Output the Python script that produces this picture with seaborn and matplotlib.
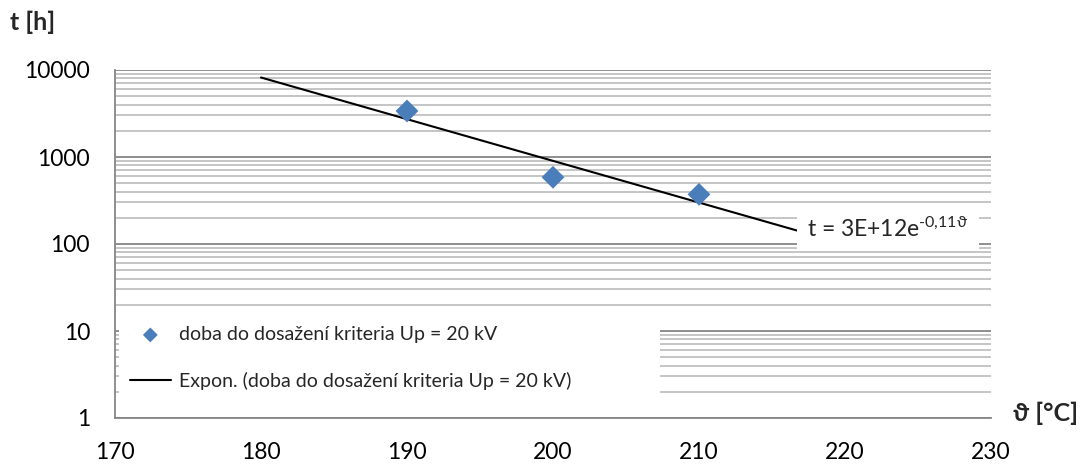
import numpy as np
import pandas as pd
import seaborn as sns
import matplotlib
matplotlib.use("Agg")
import matplotlib.pyplot as plt
from matplotlib.ticker import FixedLocator, LogLocator, NullFormatter
from matplotlib.patches import Rectangle

# Measured time to reach the criterion Up = 20 kV at each ageing temperature
theta = [190, 200, 210]          # temperature [°C]
hours = [3380, 585, 372]         # time [h]
series_label = "doba do dosažení kriteria Up = 20 kV"
trend_label = "Expon. (doba do dosažení kriteria Up = 20 kV)"
x_ticks = [170, 180, 190, 200, 210, 220, 230]
y_ticks = [1, 10, 100, 1000, 10000]

sns.set_theme(style="white")
FONT = ["Lato", "DejaVu Sans"]
plt.rcParams["font.family"] = FONT
plt.rcParams["mathtext.fontset"] = "custom"
plt.rcParams["mathtext.rm"] = "Lato"
plt.rcParams["mathtext.it"] = "Lato:italic"
plt.rcParams["mathtext.fallback"] = "stixsans"

df = pd.DataFrame({"theta": theta, "hours": hours})

# Exponential trend t = a * exp(b * theta), fitted on log scale
b, ln_a = np.polyfit(df["theta"], np.log(df["hours"]), 1)
a = np.exp(ln_a)
trend_x = np.linspace(min(theta) - 10, max(theta) + 10, 100)
trend = pd.DataFrame({"theta": trend_x, "hours": a * np.exp(b * trend_x)})

fig = plt.figure(figsize=(10.81, 4.66), dpi=100)
ax = fig.add_axes([115 / 1081, 1 - 418 / 466, 876 / 1081, 348 / 466])

MAJOR = "#868686"
MINOR = "#c0c0c0"
BLUE = "#4a7ebb"

ax.set_yscale("log")
ax.set_xlim(170, 230)
ax.set_ylim(1, 10000)
ax.set_axisbelow(True)

ax.yaxis.set_major_locator(FixedLocator(y_ticks))
ax.set_yticklabels([str(v) for v in y_ticks])
ax.yaxis.set_minor_locator(LogLocator(base=10, subs=np.arange(2, 10)))
ax.yaxis.set_minor_formatter(NullFormatter())
ax.xaxis.set_major_locator(FixedLocator(x_ticks))
ax.set_xticklabels([str(v) for v in x_ticks])

ax.grid(False)
ax.grid(True, which="major", axis="y", color=MAJOR, linewidth=1.3)
ax.grid(True, which="minor", axis="y", color=MINOR, linewidth=1.3)

ax.tick_params(axis="both", which="major", direction="out", length=6,
               width=1.3, color=MAJOR, labelsize=16.5, labelcolor="black")
ax.tick_params(axis="y", which="major", pad=12)
ax.tick_params(axis="x", which="major", pad=11)
ax.tick_params(axis="y", which="minor", length=0)
for side in ("top", "right"):
    ax.spines[side].set_visible(False)
for side in ("left", "bottom"):
    ax.spines[side].set_color(MAJOR)
    ax.spines[side].set_linewidth(1.3)

sns.lineplot(data=trend, x="theta", y="hours", color="black", linewidth=1.5,
             ax=ax, label=trend_label, zorder=3)
sns.scatterplot(data=df, x="theta", y="hours", marker="D", s=135, color=BLUE,
                edgecolor="none", ax=ax, label=series_label, zorder=4)
ax.set_xlabel("")
ax.set_ylabel("")

# White panel behind the legend
ax.add_patch(Rectangle((0.004, 0.003), 0.618, 0.285, transform=ax.transAxes,
                       facecolor="white", edgecolor="none", zorder=1.5))
handles, labels = ax.get_legend_handles_labels()
order = [labels.index(series_label), labels.index(trend_label)]
leg = ax.legend([handles[i] for i in order], [labels[i] for i in order],
                loc="center left", bbox_to_anchor=(0.017, 0.172), frameon=False,
                fontsize=14, borderpad=0, borderaxespad=0, handlelength=2.1,
                handletextpad=0.4, labelspacing=1.5, markerscale=0.65)

# Trend equation label
a_str = f"{a:.0E}"
b_str = f"{b:.2f}".replace(".", ",")
eq = f"t = {a_str}e$^{{\\text{{{b_str}ϑ}}}}$"
ax.text(0.79, 0.52, eq, transform=ax.transAxes, ha="left", va="baseline",
        fontsize=16.5, zorder=5,
        bbox=dict(facecolor="white", edgecolor="none", boxstyle="square,pad=0.45"))

fig.text(10 / 1081, 1 - 22 / 466, "t [h]", fontsize=18, fontweight="bold",
         ha="left", va="center", family=FONT)
fig.text(1013 / 1081, 1 - 413 / 466, "ϑ [°C]", fontsize=18, fontweight="bold",
         ha="left", va="center", family=FONT)

fig.savefig("out.png", dpi=100)
